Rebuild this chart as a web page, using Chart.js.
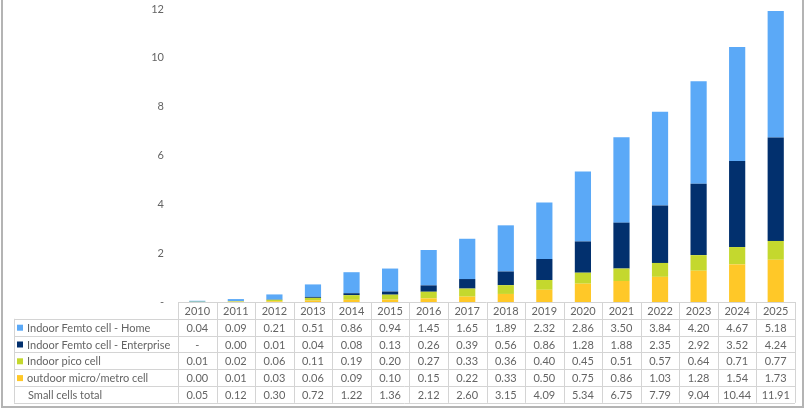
<!DOCTYPE html>
<html>
<head>
<meta charset="utf-8">
<script src="https://cdn.jsdelivr.net/npm/chart.js@4.4.0/dist/chart.umd.min.js"></script>
<style>
  html, body { margin: 0; padding: 0; background: #ffffff; }
  #wrap { width: 806px; height: 410px; position: relative; }
</style>
</head>
<body>
<div id="wrap"><canvas id="c" width="806" height="410"></canvas></div>
<script>
const years = ['2010','2011','2012','2013','2014','2015','2016','2017','2018','2019','2020','2021','2022','2023','2024','2025'];
const femtoHome = [0.04,0.09,0.21,0.51,0.86,0.94,1.45,1.65,1.89,2.32,2.86,3.50,3.84,4.20,4.67,5.18];
const femtoEnterprise = [null,0.00,0.01,0.04,0.08,0.13,0.26,0.39,0.56,0.86,1.28,1.88,2.35,2.92,3.52,4.24];
const picoCell = [0.01,0.02,0.06,0.11,0.19,0.20,0.27,0.33,0.36,0.40,0.45,0.51,0.57,0.64,0.71,0.77];
const outdoorMicro = [0.00,0.01,0.03,0.06,0.09,0.10,0.15,0.22,0.33,0.50,0.75,0.86,1.03,1.28,1.54,1.73];
const smallCellsTotal = [0.05,0.12,0.30,0.72,1.22,1.36,2.12,2.60,3.15,4.09,5.34,6.75,7.79,9.04,10.44,11.91];
const seriesNames = ['Indoor Femto cell - Home','Indoor Femto cell - Enterprise','Indoor pico cell','outdoor micro/metro cell'];
const totalLabel = 'Small cells total';
const yTicks = [0,2,4,6,8,10,12];

const colors = ['#5BA9F7','#02306E','#C4D82E','#FFC828'];
const textColor = '#646464';
const gridColor = '#d4d4d4';
const FONT = 'Lato, "Open Sans", sans-serif';

const tablePlugin = {
  id: 'dataTable',
  afterDraw(chart) {
    const ctx = chart.ctx;
    const x = chart.scales.x;
    const area = chart.chartArea;
    const n = years.length;
    const colW = (area.right - area.left) / n;
    const rowH = 16.8;
    const top = area.bottom;
    const legendLeft = 14;
    const rows = [femtoHome, femtoEnterprise, picoCell, outdoorMicro, smallCellsTotal];
    const labels = seriesNames.concat([totalLabel]);
    ctx.save();
    ctx.strokeStyle = gridColor;
    ctx.lineWidth = 1;
    ctx.beginPath();
    ctx.moveTo(area.left, top + 0.5); ctx.lineTo(area.right, top + 0.5);
    for (let r = 1; r <= 6; r++) {
      const yy = Math.round(top + r * rowH) + 0.5;
      ctx.moveTo(legendLeft, yy);
      ctx.lineTo(area.right, yy);
    }
    for (let i = 0; i <= n; i++) {
      const xx = Math.round(area.left + i * colW) + 0.5;
      ctx.moveTo(xx, top); ctx.lineTo(xx, top + 6 * rowH);
    }
    ctx.moveTo(legendLeft + 0.5, top + rowH); ctx.lineTo(legendLeft + 0.5, top + 6 * rowH);
    ctx.stroke();

    ctx.fillStyle = textColor;
    ctx.font = '11px ' + FONT;
    ctx.textBaseline = 'middle';
    ctx.textAlign = 'center';
    years.forEach((yr, i) => {
      ctx.fillText(yr, x.getPixelForValue(i), top + rowH / 2 + 1);
    });
    rows.forEach((arr, r) => {
      const cy = top + (r + 1) * rowH + rowH / 2 + 1;
      ctx.textAlign = 'center';
      ctx.fillStyle = textColor;
      arr.forEach((v, i) => {
        ctx.fillText(v === null ? '-' : v.toFixed(2), x.getPixelForValue(i), cy);
      });
      ctx.textAlign = 'left';
      if (r < 4) {
        ctx.fillStyle = colors[r];
        ctx.fillRect(legendLeft + 3, cy - 3.5, 6, 6);
        ctx.fillStyle = textColor;
        ctx.fillText(labels[r], legendLeft + 13, cy);
      } else {
        ctx.fillText(labels[r], legendLeft + 14, cy);
      }
    });
    ctx.strokeStyle = '#b4b4b4';
    ctx.lineWidth = 2;
    ctx.beginPath();
    ctx.moveTo(2, 0); ctx.lineTo(2, 407); ctx.lineTo(803, 407); ctx.lineTo(803, 0);
    ctx.stroke();
    ctx.restore();
  }
};

new Chart(document.getElementById('c'), {
  type: 'bar',
  data: {
    labels: years,
    datasets: [
      { label: seriesNames[3], data: outdoorMicro, backgroundColor: colors[3] },
      { label: seriesNames[2], data: picoCell, backgroundColor: colors[2] },
      { label: seriesNames[1], data: femtoEnterprise, backgroundColor: colors[1] },
      { label: seriesNames[0], data: femtoHome, backgroundColor: colors[0] }
    ]
  },
  options: {
    responsive: false,
    animation: false,
    layout: { padding: { top: 9, bottom: 108, right: 11, left: 0 } },
    datasets: { bar: { categoryPercentage: 1.0, barPercentage: 0.42 } },
    plugins: { legend: { display: false }, tooltip: { enabled: false } },
    scales: {
      x: { stacked: true, display: false, offset: true },
      y: {
        stacked: true,
        min: 0, max: 12,
        afterFit(scale) { scale.width = 178; scale.paddingTop = 0; scale.paddingBottom = 0; },
        afterBuildTicks(scale) { scale.ticks = yTicks.map(v => ({ value: v })); },
        border: { display: false },
        grid: { display: false, drawTicks: false },
        ticks: {
          padding: 14,
          color: textColor,
          font: { family: FONT, size: 11 },
          callback: v => v === 0 ? '-' : String(v)
        }
      }
    }
  },
  plugins: [tablePlugin]
});
</script>
</body>
</html>
